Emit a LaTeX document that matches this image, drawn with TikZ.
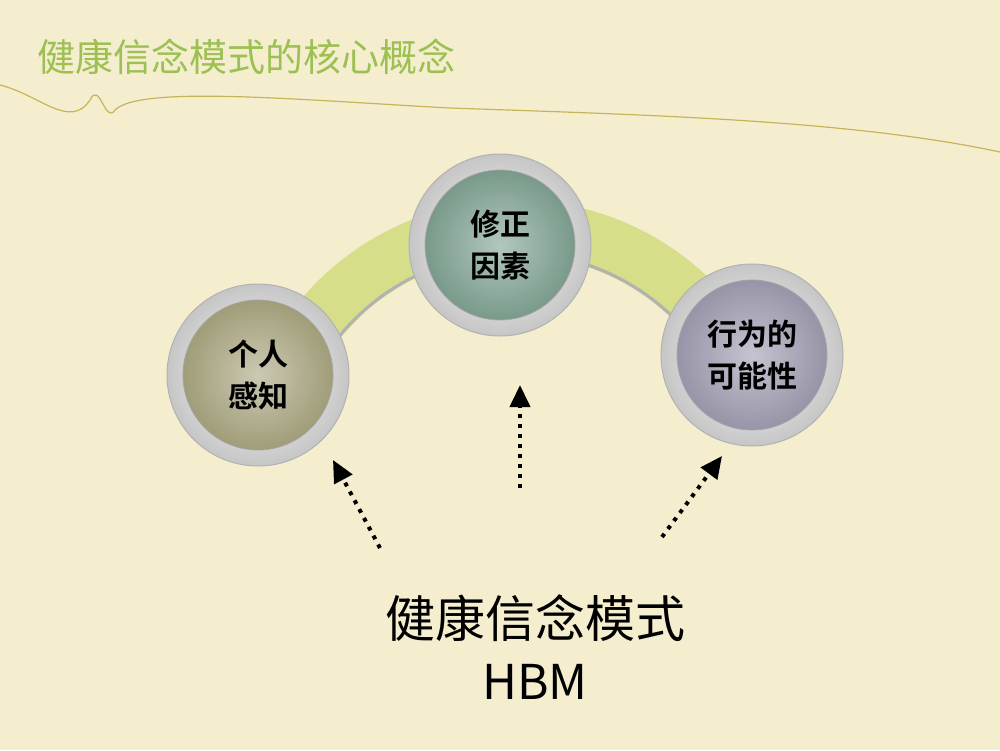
\documentclass[tikz,border=0pt]{standalone}
\usepackage{fontspec}
\newfontfamily\cjk{Noto Sans CJK SC}
\newfontfamily\cjkb{Noto Sans CJK SC Bold}
\usetikzlibrary{arrows.meta}
\definecolor{bg}{HTML}{F4EECF}
\definecolor{ttl}{HTML}{9DC052}
\definecolor{wave}{HTML}{C9B35A}
\definecolor{band}{HTML}{D6DE8A}
\definecolor{cA}{HTML}{A9A57F}
\definecolor{cB}{HTML}{7FA291}
\definecolor{cC}{HTML}{9E9CB0}
\tikzset{
  ring/.style={circle,minimum size=182pt,inner sep=0pt,draw=gray!60,line width=1pt,
    inner color=white,outer color=gray!45},
  core/.style={circle,minimum size=150pt,inner sep=0pt,draw=gray!70,line width=0.8pt,
    align=center,font=\cjkb\fontsize{30}{42}\selectfont},
  dotarrow/.style={line width=4pt,dash pattern=on 4pt off 6pt,
    -{Triangle[length=22pt,width=20pt]}}
}
\begin{document}
\begin{tikzpicture}[x=1pt,y=-1pt]
\fill[bg] (0,0) rectangle (1000,750);
\useasboundingbox (0,0) rectangle (1000,750);
\node[anchor=west,text=ttl,font=\cjk\fontsize{38}{42}\selectfont] (title) at (34,57) {健康信念模式的核心概念};
\draw[wave,line width=1.2pt] (0,85) .. controls (40,95) and (70,130) .. (90,100)
  .. controls (100,80) and (105,125) .. (115,110) .. controls (140,85) and (300,100) .. (450,108)
  .. controls (650,115) and (850,120) .. (1000,152);
% band
\fill[band] (515,480) ++(-155:280) arc (-155:-25:280) -- ++(155:55) arc (-25:-155:225) -- cycle;
\draw[gray!60,line width=3pt] (515,480) ++(-150:227) arc (-150:-30:227);
% circles
\node[ring] (ra) at (258,375) {};
\node[ring] (rb) at (500,245) {};
\node[ring] (rc) at (752,355) {};
\node[core,inner color=cA!60,outer color=cA!95!black] (a) at (ra) {个人\\感知};
\node[core,inner color=cB!60,outer color=cB!95!black] (b) at (rb) {修正\\因素};
\node[core,inner color=cC!60,outer color=cC!95!black] (c) at (rc) {行为的\\可能性};
% bottom text
\node[font=\cjk\fontsize{50}{54}\selectfont] (hbm) at (535,618) {健康信念模式};
\node[font=\cjk\fontsize{48}{54}\selectfont] (hbm2) at (535,682) {HBM};
\coordinate (s1) at (380,548);
\coordinate (s2) at (520,488);
\coordinate (s3) at (662,537);
\coordinate (e1) at (333,460);
\coordinate (e2) at (520,385);
\coordinate (e3) at (722,456);
\draw[dotarrow] (s1) -- (e1);
\draw[dotarrow] (s2) -- (e2);
\draw[dotarrow] (s3) -- (e3);
\end{tikzpicture}
\end{document}
